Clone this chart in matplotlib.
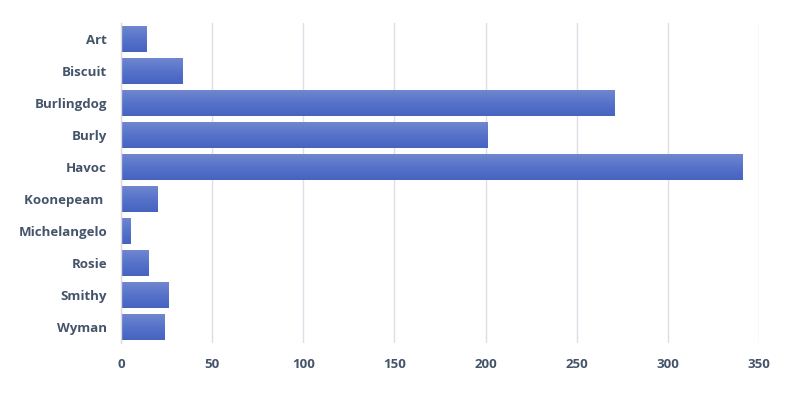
import matplotlib
matplotlib.use("Agg")
import matplotlib.pyplot as plt
import numpy as np
from matplotlib.colors import LinearSegmentedColormap

categories = ["Art", "Biscuit", "Burlingdog", "Burly", "Havoc", "Koonepeam ",
              "Michelangelo", "Rosie", "Smithy", "Wyman"]
values = [14, 34, 271, 201, 341, 20, 5, 15, 26, 24]
xticks = [0, 50, 100, 150, 200, 250, 300, 350]

plt.rcParams['font.family'] = ['Open Sans', 'DejaVu Sans']

fig = plt.figure(figsize=(7.91, 3.94), dpi=100)
ax = fig.add_axes([121/791, 1 - 343/394, (759 - 121)/791, 320/394])

y = np.arange(len(categories))
bars = ax.barh(y, values, height=0.81, color="none", edgecolor="none", zorder=2)

cmap = LinearSegmentedColormap.from_list("g", ["#4563BF", "#5672C9", "#7087CF"])
grad = np.linspace(0, 1, 256).reshape(-1, 1)
for b in bars:
    x0, y0 = b.get_x(), b.get_y()
    w, h = b.get_width(), b.get_height()
    im = ax.imshow(grad, cmap=cmap, aspect="auto", origin="upper",
                   extent=[x0, x0 + w, y0, y0 + h], zorder=2,
                   interpolation="bilinear")
    im.set_clip_path(b)

ax.set_xlim(0, 350)
ax.set_ylim(len(categories) - 0.5, -0.5)
ax.set_yticks(y)
ax.set_yticklabels(categories)
ax.set_xticks(xticks)
ax.set_xticklabels([str(t) for t in xticks])

for s in ["top", "right", "bottom"]:
    ax.spines[s].set_visible(False)
ax.spines["left"].set_color("#d9d9d9")
ax.spines["left"].set_linewidth(1.0)
ax.spines["left"].set_zorder(3)

ax.grid(axis="x", color="#dedfe6", linewidth=1.0, zorder=0)
ax.set_axisbelow(True)
ax.tick_params(axis="both", length=0, labelsize=9.5, labelcolor="#44546A")
ax.tick_params(axis="y", pad=10)
ax.tick_params(axis="x", pad=11)
for lab in ax.get_xticklabels() + ax.get_yticklabels():
    lab.set_fontweight("bold")

fig.savefig("out.png", dpi=100)
